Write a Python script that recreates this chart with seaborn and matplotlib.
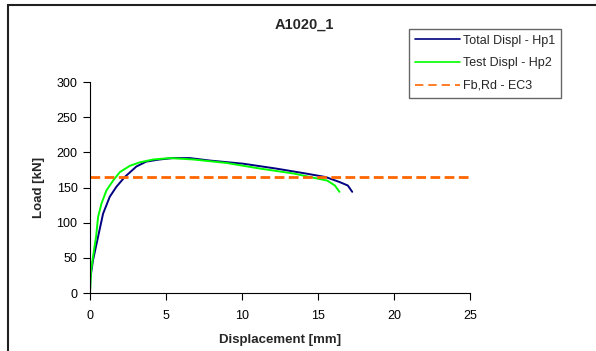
import matplotlib
matplotlib.use("Agg")
import matplotlib.pyplot as plt
import matplotlib.patches as mpatches
from matplotlib.lines import Line2D
import pandas as pd
import seaborn as sns

# ── Data ─────────────────────────────────────────────────────────────────────
hp1_disp = [0.0, 0.02, 0.2, 0.53, 0.86, 1.3, 1.73, 2.28, 3.05, 3.7, 4.58, 5.46,
            6.56, 7.87, 10.07, 12.26, 14.2, 15.5, 16.4, 16.95, 17.24]
hp1_load = [0, 21, 47, 80, 113, 137, 151, 165, 180, 187, 190, 192,
            192, 188.5, 184, 177, 170, 165, 158, 153, 144]

hp2_disp = [0.0, 0.07, 0.29, 0.4, 0.53, 0.75, 1.08, 1.52, 1.96, 2.62, 3.28, 4.16,
            5.26, 6.8, 8.99, 11.2, 13.4, 14.7, 15.6, 16.1, 16.4]
hp2_load = [0, 32, 65, 80, 108, 127, 146, 160, 172, 181, 186, 190,
            192, 190, 185, 177, 170, 164, 160, 153, 144]

fb_rd = 165
x_ticks = [0, 5, 10, 15, 20, 25]
y_ticks = [0, 50, 100, 150, 200, 250, 300]
labels = ["Total Displ - Hp1", "Test Displ - Hp2", "Fb,Rd - EC3"]
colors = ["#000080", "#00FF00", "#FF6600"]

sns.set_theme(style="white")
plt.rcParams["font.family"] = ["Liberation Sans", "DejaVu Sans"]

df1 = pd.DataFrame({"disp": hp1_disp, "load": hp1_load})
df2 = pd.DataFrame({"disp": hp2_disp, "load": hp2_load})

fig = plt.figure(figsize=(5.96, 3.51), dpi=100)
ax = fig.add_axes([0.151, 0.165, 0.638, 0.601])

sns.lineplot(data=df1, x="disp", y="load", sort=False, color=colors[0],
             linewidth=1.4, ax=ax, legend=False)
sns.lineplot(data=df2, x="disp", y="load", sort=False, color=colors[1],
             linewidth=1.4, ax=ax, legend=False)
ax.plot([0, 25], [fb_rd, fb_rd], color=colors[2], linewidth=2, dashes=(3.5, 1.6))

ax.set_xlim(0, 25)
ax.set_ylim(0, 300)
ax.set_xticks(x_ticks)
ax.set_yticks(y_ticks)
ax.tick_params(axis="both", direction="out", length=5, width=0.8,
               labelsize=9, colors="black", bottom=True, left=True, pad=4)
ax.tick_params(axis="x", pad=7)
for side in ["top", "right"]:
    ax.spines[side].set_visible(False)
for side in ["left", "bottom"]:
    ax.spines[side].set_color("black")
    ax.spines[side].set_linewidth(0.8)

ax.set_xlabel("Displacement [mm]", fontsize=9.5, fontweight="bold", labelpad=9)
ax.set_ylabel("Load [kN]", fontsize=9.5, fontweight="bold", labelpad=8)
fig.text(0.51, 1 - 25 / 351, "A1020_1", ha="center", va="center",
         fontsize=10.5, fontweight="bold")

handles = [Line2D([], [], color=colors[0], linewidth=1.2),
           Line2D([], [], color=colors[1], linewidth=1.2),
           Line2D([], [], color=colors[2], linewidth=1.2, dashes=(5, 3))]
leg = ax.legend(handles, labels, loc="upper left",
                bbox_to_anchor=(409 / 596, 1 - 29 / 351),
                bbox_transform=fig.transFigure, fontsize=9, frameon=True,
                fancybox=False, handlelength=3.6, borderpad=0.45,
                labelspacing=0.85, handletextpad=0.3, borderaxespad=0)
leg.get_frame().set_edgecolor("#404040")
leg.get_frame().set_linewidth(1.0)

# outer chart frame
fig.patches.append(mpatches.Rectangle((8 / 596, -0.1), 1.2, 1.1 - 5 / 351,
                                      transform=fig.transFigure, fill=False,
                                      edgecolor="#202020", linewidth=1.5))

fig.savefig("out.png", dpi=100)
